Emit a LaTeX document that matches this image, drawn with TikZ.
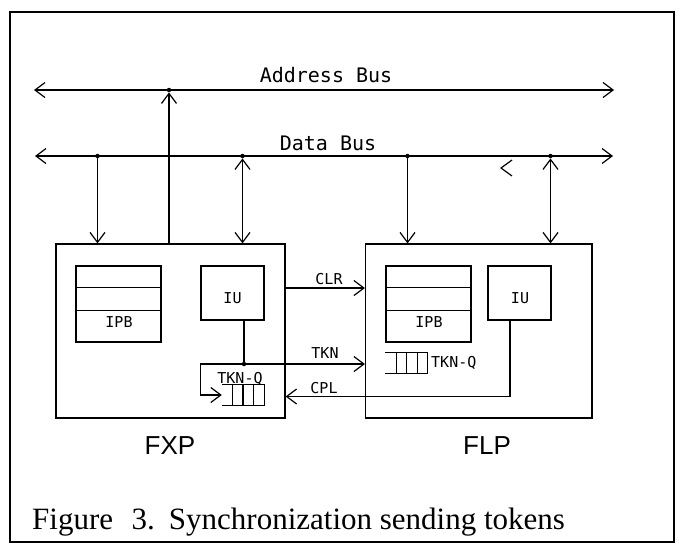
\documentclass[tikz,border=0pt]{standalone}
\usepackage{fontspec}
\setmainfont{Liberation Serif}
\setsansfont{Liberation Sans}
\setmonofont{DejaVu Sans Mono}
\usetikzlibrary{arrows.meta,calc}

\tikzset{
  wire/.style={line width=1.2pt},
  box/.style={draw, line width=1.2pt, inner sep=0pt},
  jdot/.style={circle, fill, inner sep=0pt, minimum size=4.5pt},
  lbl/.style={inner sep=0pt, font=\ttfamily\fontsize{15}{17}\selectfont},
  buslbl/.style={inner sep=0pt, font=\ttfamily\fontsize{20}{22}\selectfont},
  proclbl/.style={inner sep=0pt, font=\sffamily\fontsize{26}{28}\selectfont},
  queue/.style={inner sep=0pt, minimum width=42pt, minimum height=21pt},
}

\begin{document}
\begin{tikzpicture}[x=1pt,y=1pt,yscale=-1,xscale=1,>={Straight Barb[length=10pt,width=15pt]}]
\useasboundingbox (0,0) rectangle (684,550);

%Shape: Rectangle [frame]
\draw [line width=1.4pt] (10,12) rectangle (674,542);

%Straight Lines [buses]
\coordinate (addrL) at (34,90);
\coordinate (addrR) at (614,90);
\coordinate (dataL) at (35,156);
\coordinate (dataR) at (613,156);
\draw [wire,<->] (addrL) -- (addrR);
\draw [wire,<->] (dataL) -- (dataR);

% Text Node
\node [buslbl, anchor=base] (addrT) at (326,82) {Address Bus};
% Text Node
\node [buslbl, anchor=base] (dataT) at (328,150.5) {Data Bus};

%Shape: Rectangle [processors]
\node [box, minimum width=229pt, minimum height=174pt] (fxp) at (170.5,331) {};
\node [box, minimum width=226.5pt, minimum height=174pt] (flp) at (478.75,331) {};

%Shape: Rectangle [IPB]
\node [box, minimum width=85pt, minimum height=76pt] (ipbA) at (118.5,304) {};
\node [box, minimum width=85pt, minimum height=76pt] (ipbB) at (428.5,304) {};
\foreach \b in {ipbA,ipbB} {
  \foreach \f in {0.29,0.58}
    \draw [wire] ($(\b.north west)!\f!(\b.south west)$) -- ($(\b.north east)!\f!(\b.south east)$);
}
% Text Node
\node [lbl, anchor=base] (ipbAT) at (119,327) {IPB};
\node [lbl, anchor=base] (ipbBT) at (429,327) {IPB};

%Shape: Rectangle [IU]
\node [box, minimum width=63pt, minimum height=54pt] (iuA) at (232.5,293) {};
\node [box, minimum width=63pt, minimum height=54pt] (iuB) at (519.5,293) {};
% Text Node
\node [lbl, anchor=base] (iuAT) at (232.5,303.5) {IU};
\node [lbl, anchor=base] (iuBT) at (520,303.5) {IU};

%Shape: queues
\node [queue] (qA) at (243,395) {};
\node [queue] (qB) at (406.5,363) {};
\foreach \q in {qA,qB} {
  \draw [wire] (\q.north west) -- (\q.north east) -- (\q.south east) -- (\q.south west);
  \foreach \f in {0.26,0.5,0.75}
    \draw [wire] ($(\q.north west)!\f!(\q.north east)$) -- ($(\q.south west)!\f!(\q.south east)$);
}
% Text Node
\node [lbl, anchor=base] (qAT) at (240,383) {TKN-Q};
\node [lbl, anchor=base west] (qBT) at (431,367.5) {TKN-Q};

%Junctions on the buses
\node [jdot] (j1) at (97.5,156) {};
\node [jdot] (j2) at (169,90) {};
\node [jdot] (j3) at (242.5,156) {};
\node [jdot] (j4) at (407.5,156) {};
\node [jdot] (j5) at (550.5,156) {};
\draw [wire,->] (j1) -- (j1 |- fxp.north);
\draw [wire,->] (j2 |- fxp.north) -- (j2);
\draw [wire,<->] (j3) -- (j3 |- fxp.north);
\draw [wire,->] (j4) -- (j4 |- flp.north);
\draw [wire,<->] (j5) -- (j5 |- flp.north);
\draw [wire] (512,160) -- (501,168) -- (512,176);

%CLR
\coordinate (clrY) at (300,288);
\draw [wire,->] (fxp.east |- clrY) -- (flp.west |- clrY);
\node [lbl, anchor=base] (clrT) at (329,284) {CLR};

%TKN
\node [jdot] (tknA) at (244,364) {};
\draw [wire] (iuA.south -| tknA) -- (tknA);
\draw [wire,->] (tknA) -- (tknA -| flp.west);
\draw [wire,->] (tknA) -- (tknA -| iuA.west) |- (qA.west);
\node [lbl, anchor=base] (tknT) at (325,358.5) {TKN};

%CPL
\coordinate (cplC) at (510,396.5);
\draw [wire,->] (iuB.south -| cplC) -- (cplC) -- (cplC -| fxp.east);
\node [lbl, anchor=base] (cplT) at (324,393) {CPL};

% Text Node
\node [proclbl, anchor=base] (fxpT) at (170,454) {FXP};
\node [proclbl, anchor=base] (flpT) at (487,454) {FLP};

% Text Node
\node [anchor=base west, inner sep=0pt, font=\fontsize{31}{34}\selectfont] (capT) at (32,529) {Figure\hspace{0.6em}3.\hspace{0.45em}Synchronization sending tokens};

\end{tikzpicture}
\end{document}
